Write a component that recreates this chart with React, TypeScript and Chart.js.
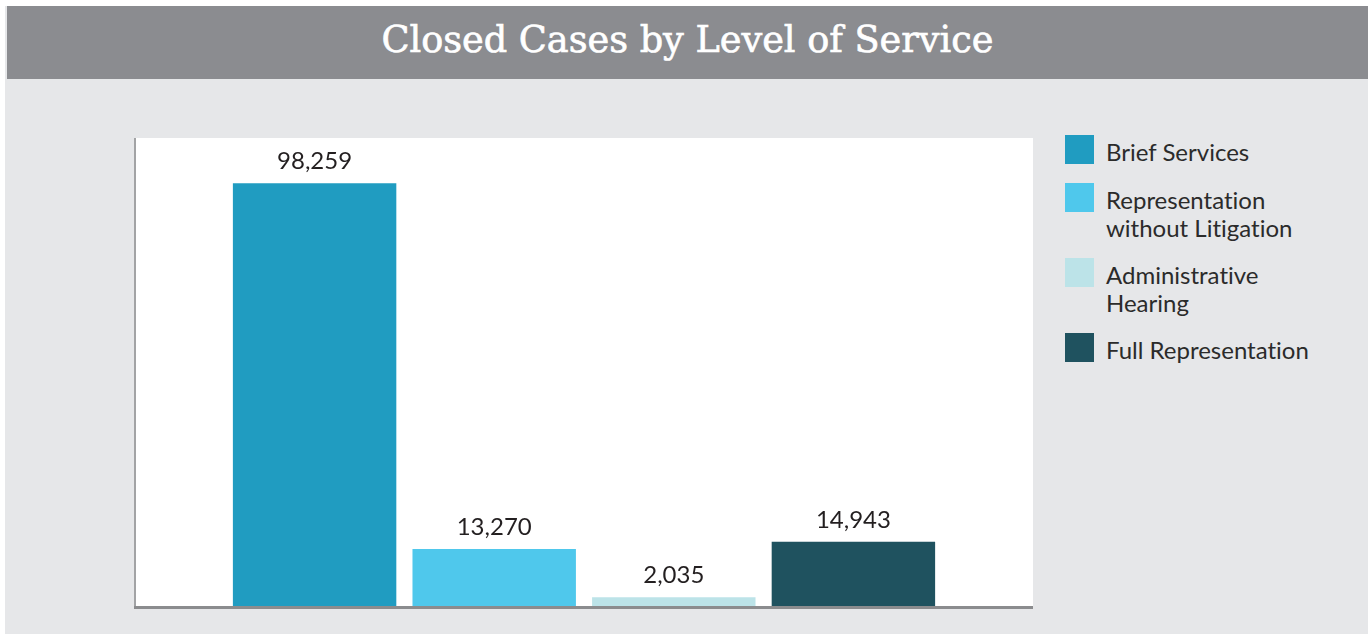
import React, { useEffect, useRef } from "react";
import { Chart, registerables } from "chart.js";

Chart.register(...registerables);

const titleText = "Closed Cases by Level of Service";
const categories = [
  "Brief Services",
  "Representation without Litigation",
  "Administrative Hearing",
  "Full Representation",
];
const legendLines = [
  ["Brief Services"],
  ["Representation", "without Litigation"],
  ["Administrative", "Hearing"],
  ["Full Representation"],
];
const values = [98259, 13270, 2035, 14943];
const colors = ["#209cc1", "#4fc8ec", "#bce3e8", "#1f525f"];
const yMax = 108800;

const decoPlugin = {
  id: "deco",
  beforeDatasetsDraw(chart: any) {
    const { ctx, chartArea: a } = chart;
    ctx.save();
    ctx.fillStyle = "#ffffff";
    ctx.fillRect(a.left, a.top, a.right - a.left, a.bottom - a.top);
    ctx.restore();
  },
  afterDatasetsDraw(chart: any) {
    const { ctx, chartArea: a } = chart;
    ctx.save();
    ctx.fillStyle = "#a2a3a5";
    ctx.fillRect(a.left - 1, a.top, 2, a.bottom - a.top + 2);
    ctx.fillStyle = "#8b8c8e";
    ctx.fillRect(a.left - 1, a.bottom, a.right - a.left + 1, 3);
    ctx.fillStyle = "#231f20";
    ctx.font = "24px Lato";
    ctx.textAlign = "center";
    ctx.textBaseline = "alphabetic";
    chart.data.datasets.forEach((ds: any, i: number) => {
      const meta = chart.getDatasetMeta(i);
      meta.data.forEach((bar: any, j: number) => {
        ctx.fillText(Number(ds.data[j]).toLocaleString("en-US"), bar.x, bar.y - 14);
      });
    });
    ctx.restore();
  },
};

export default function App() {
  const canvasRef = useRef<HTMLCanvasElement | null>(null);
  const titleRef = useRef<HTMLSpanElement | null>(null);

  useEffect(() => {
    const t = titleRef.current;
    if (t) {
      t.style.transform = "none";
      const w = t.getBoundingClientRect().width;
      if (w > 0) t.style.transform = `scaleX(${612 / w})`;
    }
    const canvas = canvasRef.current;
    if (!canvas) return;
    const chart = new Chart(canvas, {
      type: "bar",
      data: {
        labels: [""],
        datasets: categories.map((c, i) => ({
          label: c,
          data: [values[i]],
          backgroundColor: colors[i],
          borderWidth: 0,
          categoryPercentage: 0.8,
          barPercentage: 0.91,
        })),
      },
      options: {
        animation: false,
        responsive: false,
        maintainAspectRatio: false,
        layout: { padding: { left: 10, right: 12, top: 38, bottom: 14 } },
        plugins: {
          legend: { display: false },
          tooltip: { enabled: false },
          title: { display: false },
        },
        scales: {
          x: { display: false },
          y: { display: false, min: 0, max: yMax },
        },
      },
      plugins: [decoPlugin],
    });
    return () => chart.destroy();
  }, []);

  return (
    <div
      style={{
        position: "fixed",
        left: 0,
        top: 0,
        width: 1370,
        height: 634,
        background: "#ffffff",
        overflow: "hidden",
      }}
    >
      <div
        style={{
          position: "absolute",
          left: 5,
          top: 6,
          width: 1363,
          height: 628,
          background: "#e6e7e9",
        }}
      />
      <div
        style={{
          position: "absolute",
          left: 7,
          top: 6,
          width: 1361,
          height: 73,
          background: "#8b8c90",
        }}
      />
      <div
        style={{
          position: "absolute",
          left: 7,
          width: 1361,
          top: 20,
          textAlign: "center",
          lineHeight: 1,
          fontFamily: "'DejaVu Serif Condensed', 'DejaVu Serif', serif",
          fontSize: 38,
          fontWeight: 500,
          color: "#ffffff",
          whiteSpace: "nowrap",
          WebkitTextStroke: "0.6px #ffffff",
        }}
      >
        <span ref={titleRef} style={{ display: "inline-block", transformOrigin: "center" }}>
          {titleText}
        </span>
      </div>
      <div style={{ position: "absolute", left: 125, top: 100, width: 920, height: 520 }}>
        <canvas ref={canvasRef} width={920} height={520} style={{ width: 920, height: 520 }} />
      </div>
      {legendLines.map((lines, i) => {
        const tops = [135, 183, 258, 333];
        return (
          <div key={i}>
            <div
              style={{
                position: "absolute",
                left: 1065,
                top: tops[i],
                width: 29,
                height: 29,
                background: colors[i],
              }}
            />
            <div
              style={{
                position: "absolute",
                left: 1106,
                top: tops[i] + 3,
                fontFamily: "Lato, sans-serif",
                fontSize: 24,
                lineHeight: "28px",
                color: "#2b2b2b",
                whiteSpace: "nowrap",
                fontVariantLigatures: "none",
              }}
            >
              {lines.map((l, k) => (
                <div key={k}>{l}</div>
              ))}
            </div>
          </div>
        );
      })}
    </div>
  );
}
